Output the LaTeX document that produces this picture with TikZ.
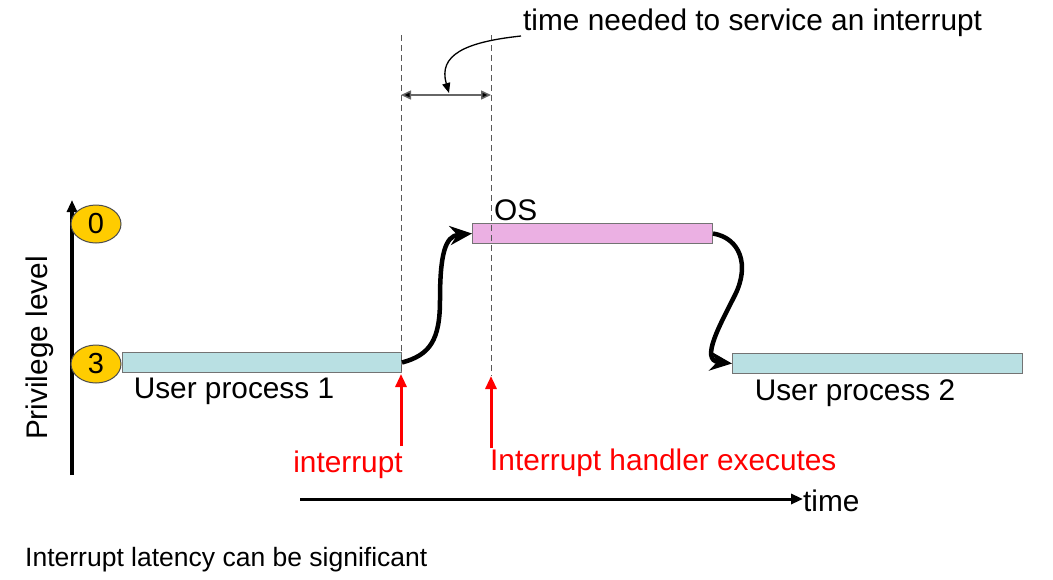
\documentclass[tikz,border=0pt]{standalone}
\usepackage{fontspec}
\setmainfont{Liberation Sans}
\usetikzlibrary{arrows.meta,shapes.geometric}
\definecolor{bargreen}{HTML}{B9E0E3}
\definecolor{barpink}{HTML}{EBB0E3}
\definecolor{gold}{HTML}{FFCC00}
\definecolor{redtxt}{HTML}{FF0000}
\begin{document}
\begin{tikzpicture}[x=1pt,y=-1pt,
  bigtxt/.style={font=\fontsize{29.8}{34}\selectfont, inner sep=0pt},
  bar/.style={draw=black!55, line width=1pt, minimum height=20pt, inner sep=0pt, anchor=north west},
  lvl/.style={ellipse, draw=black!70, fill=gold, line width=1pt, minimum width=50pt, minimum height=38pt, inner sep=0pt, font=\fontsize{29}{32}\selectfont},
  guide/.style={draw=black!65, line width=1pt, dash pattern=on 6pt off 4pt},
  redarrow/.style={draw=redtxt, line width=3pt, -{Triangle[length=13pt,width=11pt]}},
  flow/.style={line width=4.5pt, -{Stealth[length=22pt,width=19pt]}}]
\useasboundingbox (0,0) rectangle (1053,579);
% axis
\coordinate (axb) at (72,475);
\coordinate (axt) at (72,200);
\draw[line width=3.5pt, -{Triangle[length=12pt,width=10pt]}] (axb) -- (axt);
\node[bigtxt, rotate=90] (plev) at (40,348) {Privilege level};
% bars
\node[bar, fill=bargreen, minimum width=279pt] (up1) at (122,352) {};
\node[bar, fill=barpink, minimum width=240pt] (os) at (472,223) {};
\node[bar, fill=bargreen, minimum width=290pt] (up2) at (732,353) {};
\node[lvl] (l0) at (96,224) {0};
\node[lvl] (l3) at (96,364) {3};
\node[bigtxt, anchor=west] (ostxt) at (494,210) {OS};
\node[bigtxt] (up1txt) at (234,391) {User process 1};
\node[bigtxt] (up2txt) at (855,393) {User process 2};
% guides
\coordinate (g1t) at (401,35);
\coordinate (g1b) at (401,372);
\coordinate (g2t) at (491,35);
\coordinate (g2b) at (491,376);
\draw[guide] (g1t) -- (g1b);
\draw[guide] (g2t) -- (g2b);
% dimension
\coordinate (d1) at (401,95);
\coordinate (d2) at (491,95);
\coordinate (dm) at (449,93);
\draw[draw=black!60, line width=1.5pt, {Triangle[length=10pt,width=9pt,fill=black]}-{Triangle[length=10pt,width=9pt,fill=black]}] (d1) -- (d2);
\node[bigtxt, anchor=west] (tneed) at (523,23) {time needed to service an interrupt};
\coordinate (tn) at (521,36);
\draw[line width=1.3pt, -{Triangle[length=10pt,width=8pt]}] (tn) .. controls (465,42) and (438,55) .. (dm);
% red arrows
\coordinate (r1b) at (401,446);
\coordinate (r1t) at (401,374);
\coordinate (r2b) at (491,448);
\coordinate (r2t) at (491,376);
\draw[redarrow] (r1b) -- (r1t);
\draw[redarrow] (r2b) -- (r2t);
\node[bigtxt, text=redtxt] (intr) at (348,465) {interrupt};
\node[bigtxt, text=redtxt, anchor=west] (ihe) at (490,463) {Interrupt handler executes};
% time axis
\coordinate (ts) at (300,499);
\coordinate (te) at (803,499);
\draw[line width=3pt, -{Triangle[length=12pt,width=10pt]}] (ts) -- (te);
\node[bigtxt, anchor=west] (time) at (803,501) {time};
% flows
\draw[flow] (up1.east) .. controls (430,355) and (440,340) .. (440,300) .. controls (440,255) and (445,236) .. (os.west);
\draw[flow] (os.east) .. controls (740,238) and (750,265) .. (735,295) .. controls (720,325) and (700,360) .. (up2.west);
\node[font=\fontsize{26.5}{30}\selectfont, anchor=west, inner sep=0pt] (lat) at (25,560) {Interrupt latency can be significant};
\end{tikzpicture}
\end{document}
